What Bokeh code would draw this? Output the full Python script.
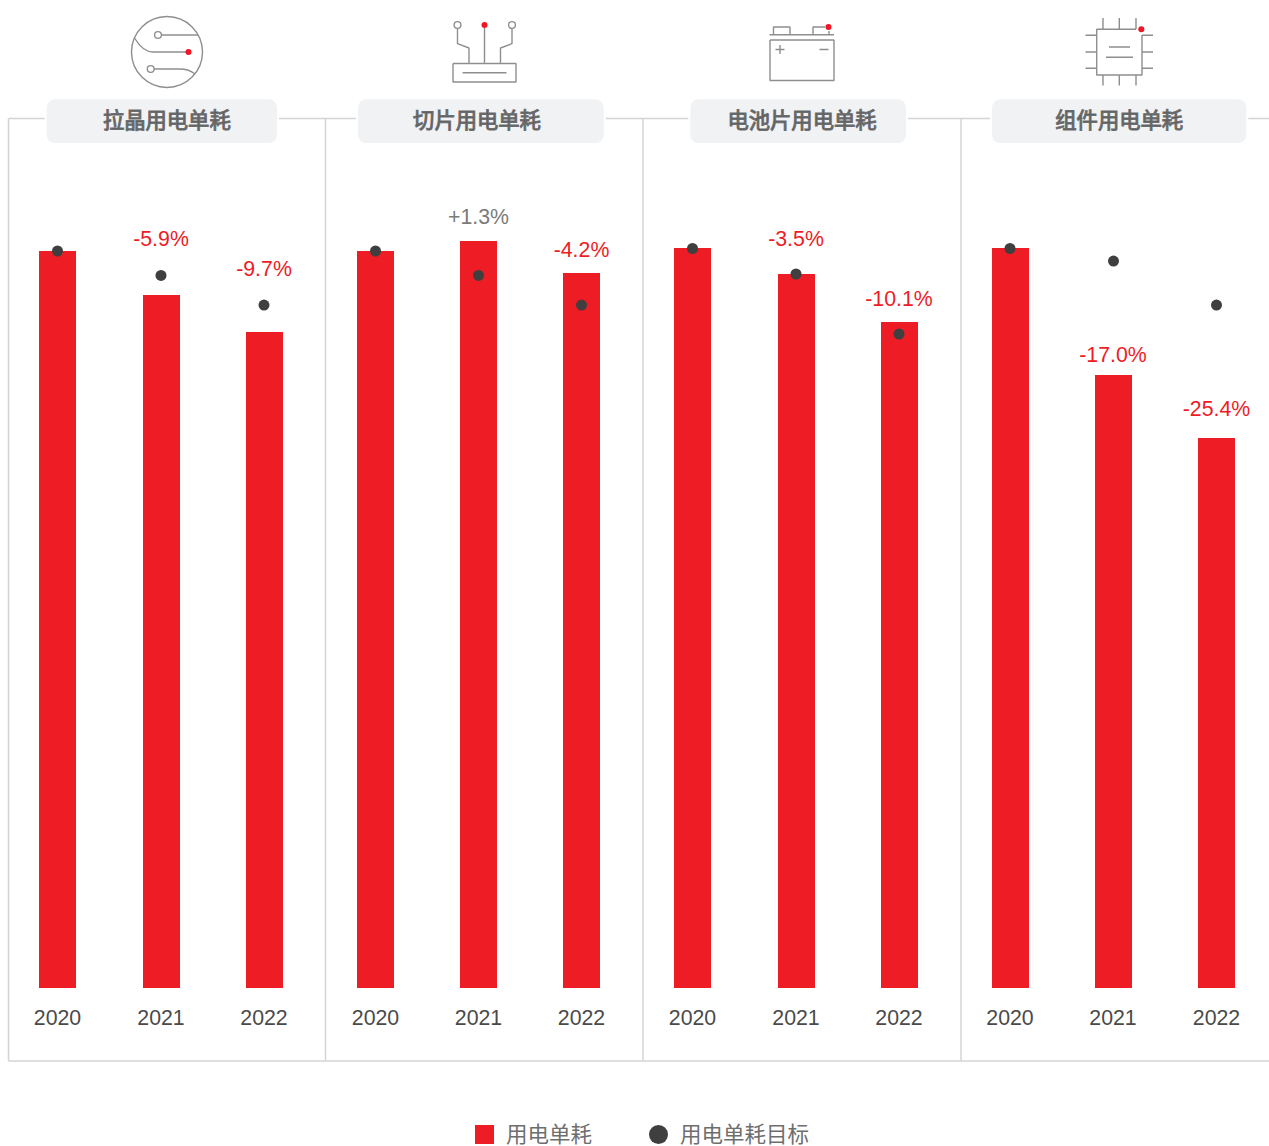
from bokeh.plotting import figure
from bokeh.models import Range1d, ColumnDataSource
from bokeh.core.properties import value
from bokeh.embed import file_html
from bokeh.resources import INLINE

# ---- data ----
panels = ["拉晶用电单耗", "切片用电单耗", "电池片用电单耗", "组件用电单耗"]
years = ["2020", "2021", "2022"]
usage = [
    [100.0, 94.03, 89.01],
    [100.0, 101.36, 97.01],
    [100.41, 96.88, 90.37],
    [100.41, 83.18, 74.63],
]
target = [
    [100.0, 96.68, 92.67],
    [100.0, 96.68, 92.67],
    [100.34, 96.88, 88.74],
    [100.34, 98.64, 92.67],
]
changes = [
    ["", "-5.9%", "-9.7%"],
    ["", "+1.3%", "-4.2%"],
    ["", "-3.5%", "-10.1%"],
    ["", "-17.0%", "-25.4%"],
]
legend_labels = ["用电单耗", "用电单耗目标"]

# ---- layout (page pixels) ----
bar_x = [[57.5, 161.5, 264.5], [375.5, 478.5, 581.5], [692.5, 796.5, 899.5], [1010.5, 1113.5, 1216.5]]
dot_x = [[57.5, 161, 264], [375.5, 478.5, 581.5], [692.5, 796, 899], [1010, 1113.5, 1216.5]]
label_x = [[57.5, 161, 264], [375.5, 478.5, 581.5], [692.5, 796, 899], [1010, 1113, 1216.5]]
label_y = [[0, 238.5, 268.5], [0, 216.5, 249.5], [0, 238.5, 298.5], [0, 354.5, 408.5]]
pill_l = [45.7, 357, 689.3, 991]
pill_r = [278, 604.7, 907, 1247.3]
pill_t, pill_b = 98.3, 144
title_cx = [166.8, 477, 802, 1119.2]
frame_x = [8.5, 325.5, 643, 961]
frame_top, frame_bottom = 118.5, 1061
frame_right = 1270
px_per_unit = 7.37
baseline_px = 988

RED = "#ee1c25"
DOT = "#3f3f3f"
GRID = "#d4d4d4"
ICON = "#8e8e8e"
ICON_RED = "#f01626"
CJK = value("Noto Sans CJK SC")
LATIN = value("Liberation Sans")

W, H = 1269, 1146
OFF = 0.5  # align page pixels with the canvas grid
p = figure(width=W, height=H, output_backend="svg", toolbar_location=None,
           x_range=Range1d(OFF, W + OFF),
           y_range=Range1d((baseline_px - H - OFF) / px_per_unit, (baseline_px - OFF) / px_per_unit),
           min_border=0, outline_line_color=None, background_fill_color="white")
p.axis.visible = False
p.grid.visible = False
p.extra_y_ranges = {"px": Range1d(H + OFF, OFF)}

# frame lines
xs = [[x, x] for x in frame_x] + [[frame_x[0], frame_right], [frame_x[0], frame_right]]
ys = [[frame_top, frame_bottom] for _ in frame_x] + [[frame_top, frame_top], [frame_bottom, frame_bottom]]
p.multi_line(xs, ys, line_color=GRID, line_width=1.5, y_range_name="px")

# title pills
p.quad(left=pill_l, right=pill_r, top=[pill_t] * 4, bottom=[pill_b] * 4, fill_color="#f1f2f4",
       line_color="white", line_width=2, border_radius=9, y_range_name="px")
p.text(x=title_cx, y=[118] * 4, text=panels, text_font=CJK, text_font_size="21.3px",
       text_color="#58595b", text_outline_color="#6c6d6f", text_align="center", text_baseline="middle",
       y_range_name="px")

# bars and target dots
flat = lambda a: [v for row in a for v in row]
src = ColumnDataSource(dict(x=flat(bar_x), top=flat(usage), dx=flat(dot_x), t=flat(target)))
p.vbar(x="x", top="top", bottom=0, width=37, fill_color=RED, line_color=None, source=src)
p.scatter(x="dx", y="t", size=11, marker="circle", fill_color=DOT, line_color=None, source=src)

# year tick labels
p.text(x=flat(label_x), y=[1017] * 12, text=years * 4, text_font=LATIN, text_font_size="21.3px",
       text_color="#4a4a4a", text_align="center", text_baseline="middle", y_range_name="px")

# change labels
cx, cy, ct, cc = [], [], [], []
for xr, yr, tr in zip(label_x, label_y, changes):
    for a, b, c in zip(xr, yr, tr):
        if c:
            cx.append(a); cy.append(b); ct.append(c)
            cc.append("#7a7a7a" if c.startswith("+") else RED)
p.text(x=cx, y=cy, text=ct, text_color=cc, text_font=LATIN, text_font_size="21.3px",
       text_align="center", text_baseline="middle", y_range_name="px")

# legend
p.quad(left=[475], right=[494], top=[1125], bottom=[1144], fill_color=RED, line_color=None, y_range_name="px")
p.scatter(x=[658.5], y=[1134.5], size=19, marker="circle", fill_color=DOT, line_color=None, y_range_name="px")
p.text(x=[506, 680], y=[1132, 1132], text=legend_labels, text_font=CJK, text_font_size="21.5px",
       text_color="#6e6e6e", text_align="left", text_baseline="middle", y_range_name="px")

# ---- icons ----
icon_lines = [
    # wafer
    [[161.5, 198], [35, 35]],
    [[153, 186], [52, 52]],
    [[154, 180], [69, 69]],
    # cutter
    [[457.5, 457.5, 469, 469], [28.5, 43.7, 48, 63.5]],
    [[484.5, 484.5], [28, 63.5]],
    [[512, 512, 500.5, 500.5], [28.5, 43.7, 48, 63.5]],
    [[453, 516, 516, 453, 453], [63.5, 63.5, 82, 82, 63.5]],
    [[462.5, 506.5], [72.7, 72.7]],
    # battery
    [[769.5, 834], [34.7, 34.7]],
    [[770, 834, 834, 770, 770], [40, 40, 80.5, 80.5, 40]],
    [[775.5, 784.5], [49.5, 49.5]],
    [[780, 780], [45, 54]],
    [[819.5, 828.5], [49.5, 49.5]],
    [[773.5, 773.5, 790, 790], [34, 27, 27, 34]],
    [[813, 813, 825], [34, 27, 27]],
    [[829, 829], [31, 34]],
    # module
    [[1142, 1142, 1096.7, 1096.7, 1136], [35, 75, 75, 29.3, 29.3]],
    [[1109, 1130], [47, 47]],
    [[1106, 1133], [57.3, 57.3]],
]
for x0 in [1103, 1119.3, 1136]:
    icon_lines.append([[x0, x0], [18, 29.3]])
    icon_lines.append([[x0, x0], [75, 85.5]])
for y0 in [35.3, 52, 68.3]:
    icon_lines.append([[1085.5, 1096.7], [y0, y0]])
    icon_lines.append([[1142, 1153], [y0, y0]])
p.multi_line([l[0] for l in icon_lines], [l[1] for l in icon_lines], line_color=ICON, line_width=1.4, y_range_name="px")

# wafer outline and curved traces
p.circle(x=[167], y=[52], radius=35.5, fill_color=None, line_color=ICON, line_width=1.4, y_range_name="px")
p.quadratic(x0=[134.5, 180], y0=[38, 69], x1=[153, 195], y1=[52, 74], cx=[143, 189], cy=[52, 69],
            line_color=ICON, line_width=1.4, y_range_name="px")
# hollow nodes
p.circle(x=[158, 150.7, 457.5, 512], y=[35, 69, 25, 25], radius=3.4, fill_color="white",
         line_color=ICON, line_width=1.4, y_range_name="px")
# red nodes
p.circle(x=[188.5, 484.5, 828.5, 1141.3], y=[52, 25, 27, 29.3], radius=3, fill_color=ICON_RED,
         line_color=None, y_range_name="px")

open("out.html", "w").write(file_html(p, INLINE))
